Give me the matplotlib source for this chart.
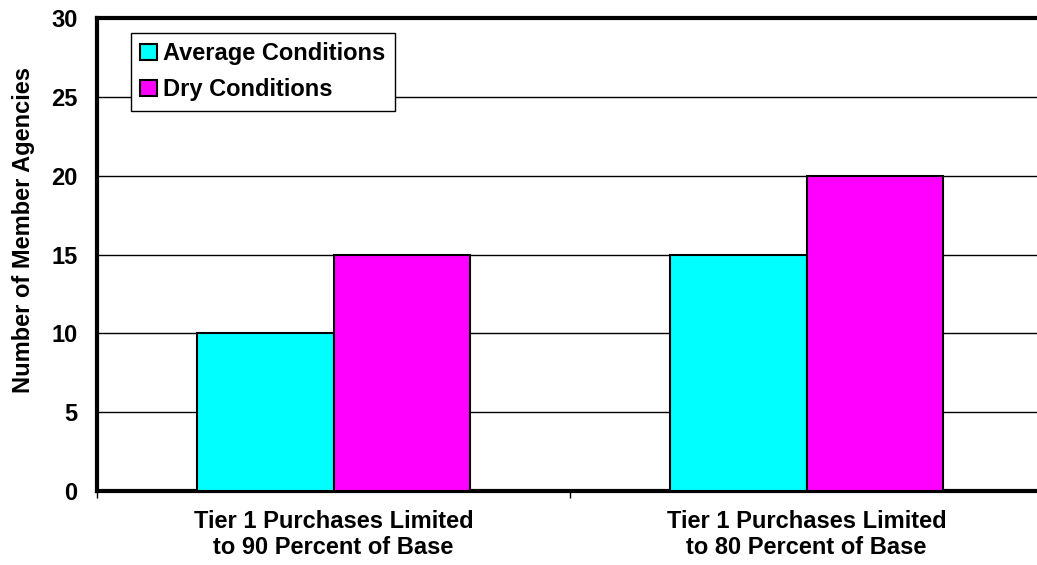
import numpy as np
import matplotlib
matplotlib.use("Agg")
import matplotlib.pyplot as plt

# данные
categories = ["Tier 1 Purchases Limited\nto 90 Percent of Base",
              "Tier 1 Purchases Limited\nto 80 Percent of Base"]
average = [10, 15]
dry = [15, 20]
series_names = ["Average Conditions", "Dry Conditions"]

plt.rcParams['font.family'] = ['Liberation Sans', 'DejaVu Sans']
plt.rcParams['font.weight'] = 'bold'
fs = 17

fig = plt.figure(figsize=(10.37, 5.65), dpi=100)
ax = fig.add_axes([97 / 1037, 74 / 565, 946 / 1037, 473 / 565])

x = np.arange(len(categories))
w = 0.288
ax.bar(x - w / 2, average, w, color='#00FFFF', edgecolor='black', linewidth=1.5,
       label=series_names[0], zorder=3)
ax.bar(x + w / 2, dry, w, color='#FF00FF', edgecolor='black', linewidth=1.5,
       label=series_names[1], zorder=3)

ax.set_xlim(-0.5, 1.5)
ax.set_ylim(0, 30)
ax.set_yticks(range(0, 31, 5))
ax.yaxis.grid(True, color='black', linewidth=1)
ax.set_axisbelow(True)

# подписи категорий
ax.set_xticks(x)
ax.set_xticklabels(categories, fontsize=fs, fontweight='bold', linespacing=1.15)
ax.tick_params(axis='x', length=0, pad=14)
ax.set_xticks([-0.5, 0.5, 1.5], minor=True)
ax.tick_params(axis='x', which='minor', length=5, width=1, direction='out')
ax.tick_params(axis='y', length=0, pad=14, labelsize=fs)
for lbl in ax.get_yticklabels():
    lbl.set_fontweight('bold')

ax.set_ylabel("Number of Member Agencies", fontsize=fs, fontweight='bold')
ax.yaxis.set_label_coords(-0.066, 0.552)

for s in ['left', 'top', 'bottom']:
    ax.spines[s].set_linewidth(3)
ax.spines['right'].set_visible(False)

leg = ax.legend(loc='upper left', bbox_to_anchor=(34 / 946, 1 - 15 / 473),
                fontsize=fs, frameon=True, fancybox=False, edgecolor='black',
                handlelength=0.7, handleheight=0.7, handletextpad=0.25,
                borderpad=0.4, labelspacing=0.55, borderaxespad=0)
leg.get_frame().set_linewidth(1)
leg.get_frame().set_alpha(1)
for t in leg.get_texts():
    t.set_fontweight('bold')

fig.savefig("out.png", dpi=100)
